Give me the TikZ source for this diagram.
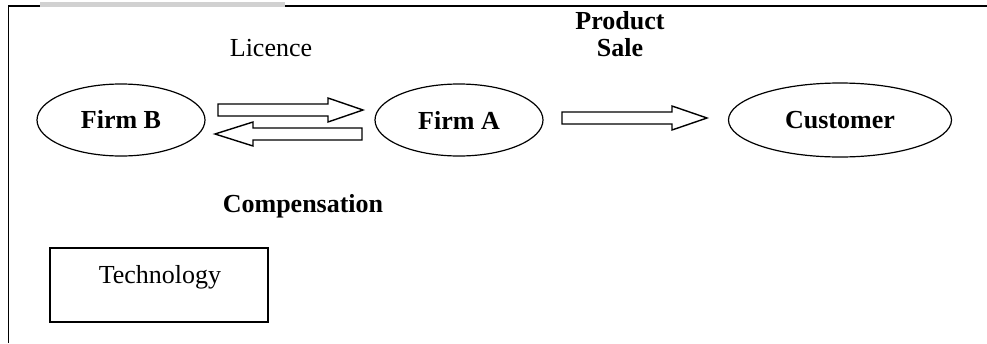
\documentclass[tikz,border=0pt]{standalone}
\usepackage{fontspec}
\setmainfont{Liberation Serif}
\usetikzlibrary{shapes.geometric}
\begin{document}
\begin{tikzpicture}[x=1pt,y=-1pt,
  party/.style={ellipse,draw,line width=1.2pt,inner sep=0pt,
    minimum width=168pt,minimum height=72pt,font=\fontsize{26}{30}\selectfont\bfseries},
  label/.style={inner sep=0pt,align=center,font=\fontsize{26}{30}\selectfont},
  blockarrow/.style={draw,line width=1.4pt,fill=white,line join=miter}]
\useasboundingbox (0,0) rectangle (987,343);
% frame
\draw[line width=1.2pt] (8.5,343) -- (8.5,6) -- (987,6);
\draw[line width=5pt,black!18] (40,4) -- (285,4);
% parties
\node[party] (B) at (121,120) {Firm B};
\node[party] (A) at (459,120) {Firm A};
\node[party,minimum width=223pt,minimum height=74pt] (C) at (840,120) {Customer};
% flows
\draw[blockarrow] (218,104) -- (328,104) -- (328,98) -- (363,110) -- (328,122) -- (328,116) -- (218,116) -- cycle;
\draw[blockarrow] (362,128) -- (253,128) -- (253,122) -- (215,134) -- (253,146) -- (253,140) -- (362,140) -- cycle;
\draw[blockarrow] (562,112) -- (672,112) -- (672,106) -- (707,118) -- (672,130) -- (672,124) -- (562,124) -- cycle;
% labels
\node[label] (lic) at (271,48) {Licence};
\node[label,font=\fontsize{26}{27}\selectfont\bfseries] (ps) at (620,34) {Product\\Sale};
\node[label,font=\fontsize{26}{30}\selectfont\bfseries] (comp) at (303,206) {Compensation};
% technology box
\draw[line width=1.2pt] (50,248) rectangle (268,322);
\node[label] (tech) at (160,277) {Technology};
\end{tikzpicture}
\end{document}
